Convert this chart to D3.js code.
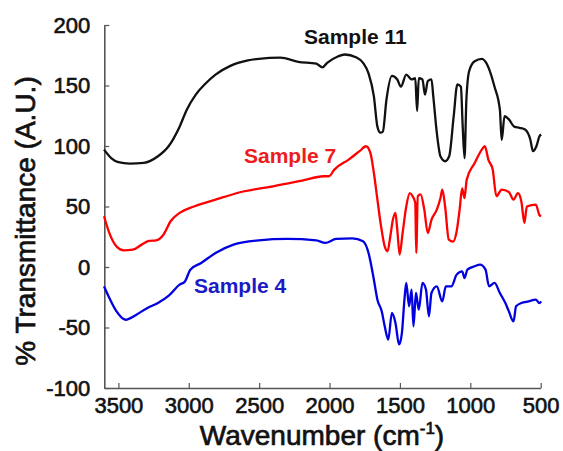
<!DOCTYPE html>
<html>
<head>
<meta charset="utf-8">
<script src="https://cdn.jsdelivr.net/npm/d3@7/dist/d3.min.js"></script>
<style>
  html, body { margin: 0; padding: 0; background: #fff; }
  svg { display: block; font-family: "Liberation Sans", Arial, sans-serif; }
</style>
</head>
<body>
<svg id="chart" width="563" height="451"></svg>
<script>
// ---- Data ----
const xTicks = [3500, 3000, 2500, 2000, 1500, 1000, 500];
const yTicks = [-100, -50, 0, 50, 100, 150, 200];

const s11Wave = [3602,3551,3500,3420,3320,3219,3142,3065,3014,2950,2886,2810,2708,2580,2503,2350,2222,2094,2050,2017,1941,1890,1813,1762,1723,1685,1660,1639,1621,1596,1557,1519,1493,1455,1417,1391,1378,1366,1340,1322,1302,1276,1263,1238,1212,1179,1150,1118,1092,1067,1054,1041,1028,1008,969,918,879,828,790,777,757,726,688,650,611,573,555,530,509,497];
const s11Trans = [97,90,86.6,85.5,86,91.5,100,116,130,142.5,151,159,166,170.7,172,173,169.6,168,165,168.7,174,175.6,173.4,168.7,160,141,116,111,112,138,158,155,149,159,155,156,129,156,155,142.5,153.6,155,141,111,91.5,87.4,91.5,124.6,151,149,116,90,138,162,170,172,167,149,130,105,124.6,122,116,115,113.6,105,95.7,100,108,109.5];

const s7Wave = [3602,3564,3513,3462,3398,3334,3283,3232,3180,3129,3065,2963,2810,2605,2401,2196,2043,2005,1966,1864,1787,1741,1710,1685,1660,1634,1608,1588,1570,1550,1532,1519,1502,1481,1455,1430,1410,1391,1384,1373,1353,1327,1302,1276,1238,1212,1199,1179,1153,1122,1097,1076,1058,1041,1026,969,918,897,872,841,815,777,726,693,662,637,616,598,535,509,497];
const s7Trans = [42,28,17,13.8,14.3,18.5,21.5,22,26.7,37.8,44.7,50,55.7,62.6,66.7,71.4,75,75,80.5,88.8,95.7,99.8,94.3,77.7,55.7,33.6,17,13,24,39,44.7,31,10.2,28,50,61,58.5,53,11.6,58.5,60,47.4,28,39,47.4,57,64,50,22.6,21,29.5,47.4,65,57,72,86,97,99.8,88.8,80.5,58.5,64,62,55.7,61,54,36.4,50,51.6,43,42];

const s4Wave = [3602,3564,3513,3449,3372,3296,3219,3142,3065,3027,2989,2912,2810,2682,2503,2299,2094,2030,1953,1838,1762,1723,1685,1660,1629,1608,1583,1557,1532,1506,1486,1468,1455,1435,1417,1404,1386,1366,1340,1315,1294,1276,1238,1199,1174,1135,1097,1058,1041,1021,969,931,892,867,828,790,751,726,693,675,637,586,535,509,497];
const s4Trans = [-16,-25.6,-36.7,-43.6,-39.4,-34,-29.8,-23.7,-14.6,-11.9,-2.2,3.3,11.6,18.5,22,23.2,22,19.9,23.2,23.7,21.2,11.6,-10.5,-27,-36.7,-49,-60,-38,-46,-64,-54.6,-27,-13.2,-32.5,-18.7,-49,-21.5,-35.3,-13.2,-18.7,-40.8,-21.5,-16,-28.4,-16,-16,-6.3,-3.6,-9.1,-2.2,0.6,1.9,-2.2,-16,-13.2,-21.5,-29.8,-36.7,-45,-32.5,-29.8,-28.4,-27,-29.8,-28.4];

const seriesNames = ["Sample 11", "Sample 7", "Sample 4"];
const seriesColors = ["#111111", "#ff0000", "#0000e0"];
const labelColors = ["#111111", "#ee1c1c", "#1a1ac8"];

// ---- Layout ----
const svg = d3.select("#chart");
const x = d3.scaleLinear().domain([3600, 500]).range([104.3, 540.7]);
const y = d3.scaleLinear().domain([-100, 200]).range([388, 25]);

const series = [
  s11Wave.map((w, i) => [w, s11Trans[i]]),
  s7Wave.map((w, i) => [w, s7Trans[i]]),
  s4Wave.map((w, i) => [w, s4Trans[i]])
];

// Axes
const fmt = d => String(d);
const xAxis = d3.axisBottom(x).tickValues(xTicks).tickFormat(fmt)
  .tickSizeInner(-5).tickSizeOuter(0).tickPadding(9.4);
const yAxis = d3.axisLeft(y).tickValues(yTicks).tickFormat(fmt)
  .tickSizeInner(-5).tickSizeOuter(0).tickPadding(14);

const gx = svg.append("g").attr("transform", "translate(0,388)").call(xAxis);
const gy = svg.append("g").attr("transform", "translate(104.3,0)").call(yAxis);

[gx, gy].forEach(g => {
  g.select(".domain").attr("stroke", "#555").attr("stroke-width", 1.6);
  g.selectAll(".tick line").attr("stroke", "#555").attr("stroke-width", 1.2);
  g.selectAll(".tick text").attr("fill", "#111")
    .attr("stroke", "#111").attr("stroke-width", 0.6)
    .style("font-size", "22px")
    .style("font-family", "'Liberation Sans', Arial, sans-serif");
});

// Lines
const line = d3.line().curve(d3.curveMonotoneX).x(d => x(d[0])).y(d => y(d[1]));
series.forEach((s, i) => {
  svg.append("path").datum(s)
    .attr("fill", "none")
    .attr("stroke", seriesColors[i])
    .attr("stroke-width", 2.3)
    .attr("stroke-linejoin", "round")
    .attr("d", line);
});

// Series labels
const labelPos = [[304, 44], [244, 163], [194, 293]];
seriesNames.forEach((n, i) => {
  svg.append("text")
    .attr("x", labelPos[i][0]).attr("y", labelPos[i][1])
    .attr("fill", labelColors[i])
    .style("font-size", "21px").style("font-weight", "bold")
    .text(n);
});

// Axis titles
const xt = svg.append("text")
  .attr("x", 322).attr("y", 445)
  .attr("text-anchor", "middle")
  .attr("fill", "#111").attr("stroke", "#111").attr("stroke-width", 0.7)
  .style("font-size", "28px");
xt.append("tspan").text("Wavenumber (cm");
xt.append("tspan").attr("dy", -11).style("font-size", "17px").text("-1");
xt.append("tspan").attr("dy", 11).text(")");

svg.append("text")
  .attr("transform", "translate(35,221) rotate(-90)")
  .attr("text-anchor", "middle")
  .attr("fill", "#111").attr("stroke", "#111").attr("stroke-width", 0.7)
  .style("font-size", "28px")
  .text("% Transmittance (A.U.)");
</script>
</body>
</html>
